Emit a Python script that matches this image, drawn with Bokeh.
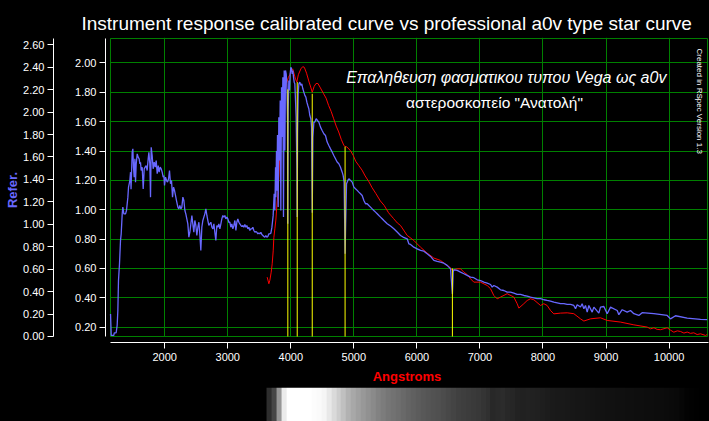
import numpy as np
from bokeh.plotting import figure
from bokeh.models import (Range1d, LinearAxis, FixedTicker, PrintfTickFormatter,
                          BoxAnnotation, Label, GlobalInlineStyleSheet)
from bokeh.layouts import column
from bokeh.embed import file_html
from bokeh.resources import INLINE

# ---------------- data ----------------
blue_wl = [1141, 1152, 1193, 1200, 1230, 1246, 1257, 1267, 1283, 1299, 1310, 1326, 1336, 1352, 1379, 1394,
           1405, 1416, 1426, 1437, 1447, 1458, 1466, 1474, 1484, 1495, 1505, 1516, 1527, 1537, 1548, 1564,
           1579, 1595, 1606, 1616, 1627, 1643, 1659, 1675, 1690, 1706, 1722, 1738, 1749, 1764, 1775, 1786,
           1801, 1817, 1833, 1849, 1865, 1881, 1897, 1912, 1928, 1944, 1960, 1976, 1987, 1997, 2013, 2029,
           2045, 2061, 2076, 2092, 2108, 2124, 2140, 2156, 2172, 2187, 2209, 2224, 2240, 2256, 2272, 2288,
           2304, 2320, 2335, 2351, 2367, 2383, 2399, 2415, 2431, 2446, 2462, 2478, 2494, 2510, 2526, 2542,
           2557, 2573, 2589, 2605, 2621, 2637, 2653, 2669, 2684, 2700, 2716, 2732, 2748, 2764, 2780, 2795,
           2811, 2827, 2843, 2859, 2875, 2891, 2906, 2922, 2938, 2954, 2970, 2986, 3002, 3017, 3033, 3049,
           3065, 3081, 3097, 3113, 3129, 3144, 3160, 3176, 3192, 3208, 3224, 3240, 3255, 3271, 3287, 3303,
           3319, 3335, 3351, 3366, 3382, 3398, 3414, 3430, 3446, 3462, 3477, 3493, 3509, 3525, 3541, 3557,
           3573, 3588, 3604, 3620, 3636, 3652, 3668, 3684, 3700, 3710, 3720,
           3736, 3747, 3758, 3763, 3773, 3779, 3789, 3800, 3810, 3821, 3832, 3842, 3853, 3863, 3874, 3884,
           3895, 3906, 3916, 3927, 3937, 3948, 3953, 3958, 3969, 3980, 3990, 4001, 4011, 4022, 4032, 4043,
           4054, 4064, 4075, 4085, 4096, 4101, 4107, 4117, 4128, 4143, 4159, 4175, 4191, 4207, 4223, 4239,
           4255, 4270, 4286, 4302, 4318, 4329, 4340, 4350, 4366, 4381, 4402, 4423, 4445, 4471, 4497, 4524,
           4550, 4577, 4603, 4630, 4656, 4682, 4709, 4735, 4762, 4788, 4815, 4830, 4846, 4861, 4870, 4884,
           4905, 4921, 4947, 4974, 5000, 5026, 5053, 5079, 5106, 5132, 5159, 5185, 5211, 5238, 5264, 5291,
           5317, 5344, 5370, 5397, 5423, 5449, 5476, 5529, 5582, 5634, 5687,
           5740, 5780, 5846, 5872, 5899, 5951, 6004, 6057, 6110, 6163, 6216, 6269, 6322, 6374, 6427, 6480,
           6507, 6533, 6563, 6575, 6586, 6639, 6692, 6745, 6797, 6850, 6903, 6956, 7009, 7062, 7115, 7168,
           7194, 7220, 7273, 7326, 7379, 7432, 7485, 7538, 7590, 7643, 7696, 7749, 7802, 7855, 7908, 7961,
           8013, 8066, 8119, 8172, 8225, 8278, 8331, 8384, 8436, 8489, 8516, 8542, 8595, 8621, 8648, 8674,
           8701, 8727, 8780, 8807, 8886, 8912, 8965, 9018, 9071, 9177, 9203, 9256, 9335, 9388, 9441, 9520,
           9573, 9758, 9970, 10022, 10102, 10287, 10498, 10604]
blue_val = [0.29, 0.144, 0.144, 0.162, 0.162, 0.212, 0.314, 0.518, 0.632, 0.791, 0.836, 0.972, 1.018, 0.972, 0.972, 0.995,
            1.040, 1.086, 1.154, 1.177, 1.199, 1.256, 1.14, 1.245, 1.392, 1.415, 1.290, 1.222, 1.347, 1.188, 1.313, 1.381,
            1.358, 1.347, 1.313, 1.324, 1.267, 1.290, 1.142, 1.279, 1.290, 1.301, 1.267, 1.347, 1.392, 1.313, 1.086, 1.426,
            1.369, 1.279, 1.324, 1.290, 1.335, 1.245, 1.301, 1.256, 1.290, 1.279, 1.256, 1.222, 1.233, 1.165, 1.222, 1.199,
            1.188, 1.211, 1.267, 1.177, 1.199, 1.086, 1.154, 1.131, 1.097, 1.063, 1.018, 1.006, 1.029, 1.006, 1.018, 1.086,
            1.063, 0.995, 0.972, 0.938, 0.904, 0.813, 0.847, 0.904, 0.961, 0.904, 0.847, 0.927, 0.893, 0.825, 0.881, 0.915,
            0.836, 0.723, 0.881, 0.927, 0.950, 0.972, 1.006, 0.961, 0.927, 0.893, 0.904, 0.915, 0.881, 0.870, 0.904, 0.847,
            0.791, 0.893, 0.881, 0.904, 0.870, 0.904, 0.938, 0.961, 0.950, 0.961, 0.938, 0.950, 0.938, 0.915, 0.915, 0.881,
            0.904, 0.870, 0.893, 0.927, 0.859, 0.915, 0.938, 0.915, 0.904, 0.893, 0.886, 0.893, 0.881, 0.900, 0.881, 0.893,
            0.870, 0.881, 0.859, 0.870, 0.870, 0.881, 0.859, 0.847, 0.852, 0.847, 0.836, 0.841, 0.836, 0.847, 0.831, 0.825,
            0.818, 0.813, 0.825, 0.813, 0.818, 0.836, 0.836, 0.841, 0.88, 0.92, 0.96,
            1.109, 0.995, 1.29, 1.086, 1.40, 1.13, 1.51, 1.018, 1.63, 1.336, 1.745, 0.995, 1.835, 1.495, 1.903, 0.95,
            1.949, 1.404, 1.949, 1.926, 1.858, 1.60, 0.905, 1.676, 1.881, 1.813, 1.926, 1.971, 1.96, 1.926, 1.949, 1.903,
            1.869, 1.858, 1.744, 1.631, 1.30, 0.95, 1.518, 1.79, 1.858, 1.869, 1.847, 1.858, 1.824, 1.801, 1.779, 1.767,
            1.733, 1.71, 1.688, 1.642, 1.62, 1.563, 0.98, 1.495, 1.597, 1.597, 1.62, 1.608, 1.597, 1.563, 1.54, 1.518,
            1.506, 1.461, 1.438, 1.415, 1.393, 1.37, 1.347, 1.325, 1.313, 1.29, 1.256, 1.234, 1.188, 0.70, 0.90, 1.177,
            1.20, 1.211, 1.20, 1.188, 1.154, 1.143, 1.132, 1.120, 1.109, 1.097, 1.063, 1.041, 1.041, 1.029, 1.018, 1.006,
            0.995, 0.984, 0.973, 0.961, 0.950, 0.939, 0.927, 0.905, 0.889, 0.871, 0.848,
            0.825, 0.814, 0.802, 0.768, 0.764, 0.745, 0.734, 0.723, 0.718, 0.700, 0.682, 0.655, 0.648, 0.643, 0.636, 0.621,
            0.609, 0.598, 0.427, 0.575, 0.591, 0.587, 0.575, 0.564, 0.553, 0.541, 0.537, 0.523, 0.518, 0.507, 0.500, 0.491,
            0.473, 0.484, 0.473, 0.455, 0.450, 0.439, 0.439, 0.432, 0.423, 0.423, 0.416, 0.412, 0.405, 0.400, 0.394, 0.394,
            0.387, 0.382, 0.378, 0.371, 0.366, 0.360, 0.360, 0.355, 0.355, 0.348, 0.326, 0.353, 0.337, 0.360, 0.326, 0.348,
            0.303, 0.348, 0.303, 0.337, 0.296, 0.337, 0.341, 0.292, 0.337, 0.314, 0.285, 0.319, 0.303, 0.314, 0.292, 0.280,
            0.299, 0.292, 0.280, 0.257, 0.278, 0.262, 0.253, 0.251]

red_wl = [3625, 3652, 3668, 3689, 3705, 3721, 3731, 3747, 3763, 3784, 3800, 3810, 3826, 3847, 3869, 3890,
          3911, 3932, 3960, 3985, 4010, 4030, 4050, 4075, 4095, 4120, 4160, 4190, 4215, 4250, 4290, 4320,
          4340, 4370, 4400, 4430, 4470, 4520, 4560, 4600, 4640, 4680, 4720, 4760, 4800, 4840, 4861, 4880,
          4910, 4950, 4990, 5030, 5080, 5130, 5180, 5240, 5290, 5350, 5420, 5480, 5550, 5630, 5690,
          5740, 5846, 5951, 6057, 6163, 6269, 6374, 6480, 6533, 6560, 6586, 6639, 6692, 6745, 6797, 6850,
          6903, 7009, 7115, 7168, 7220, 7273, 7326, 7432, 7538, 7590, 7617, 7696, 7749, 7802, 7855, 7961,
          8013, 8066, 8119, 8172, 8278, 8384, 8489, 8595, 8648, 8754, 8912, 9018, 9229, 9441, 9652, 9705,
          9760, 9810, 9864, 9970, 10022, 10075, 10130, 10181, 10235, 10287, 10340, 10392, 10445, 10498, 10578, 10604]
red_val = [0.541, 0.496, 0.52, 0.575, 0.632, 0.72, 0.81, 0.87, 0.93, 1.06, 1.13, 1.22, 1.40, 1.55, 1.64, 1.70,
           1.80, 1.86, 1.90, 1.92, 1.95, 1.96, 1.93, 1.89, 1.87, 1.92, 1.96, 1.975, 1.97, 1.93, 1.87, 1.83,
           1.80, 1.84, 1.86, 1.86, 1.83, 1.79, 1.76, 1.71, 1.67, 1.62, 1.57, 1.53, 1.48, 1.44, 1.43, 1.43,
           1.42, 1.40, 1.37, 1.33, 1.30, 1.27, 1.23, 1.19, 1.15, 1.11, 1.06, 1.03, 0.98, 0.94, 0.91,
           0.893, 0.825, 0.791, 0.745, 0.705, 0.671, 0.655, 0.621, 0.605, 0.587, 0.591, 0.598, 0.598, 0.575, 0.559, 0.530,
           0.507, 0.507, 0.484, 0.462, 0.416, 0.393, 0.405, 0.428, 0.405, 0.360, 0.330, 0.360, 0.382, 0.394, 0.387, 0.348,
           0.360, 0.348, 0.314, 0.291, 0.296, 0.298, 0.292, 0.257, 0.242, 0.257, 0.264, 0.246, 0.235, 0.216, 0.201, 0.189,
           0.196, 0.185, 0.183, 0.196, 0.180, 0.166, 0.175, 0.171, 0.160, 0.167, 0.158, 0.162, 0.150, 0.155, 0.144, 0.150]

line_wl = [3953, 4102, 4340, 4861, 6563]        # Balmer line markers
line_top = [1.82, 1.87, 1.79, 1.43, 0.60]

x_ticks = [2000, 3000, 4000, 5000, 6000, 7000, 8000, 9000, 10000]
y_ticks = [0.2, 0.4, 0.6, 0.8, 1.0, 1.2, 1.4, 1.6, 1.8, 2.0]
y2_ticks = [0.0, 0.2, 0.4, 0.6, 0.8, 1.0, 1.2, 1.4, 1.6, 1.8, 2.0, 2.2, 2.4, 2.6]

strip_gray = [45, 70, 150, 235, 255, 255, 255, 255, 255, 252, 250, 245, 232, 218, 205, 192,
              178, 168, 160, 152, 145, 138, 130, 124, 118, 114, 110, 105, 100, 96, 92, 88,
              85, 82, 80, 76, 72, 68, 64, 62, 60, 58, 56, 52, 48, 40, 42, 44,
              40, 38, 34, 33, 34, 33, 32, 30, 28, 26, 25, 25, 24, 23, 22, 22,
              21, 20, 19, 18, 17, 17, 16, 16, 15, 15, 14, 14, 13, 13, 12, 12,
              11, 10, 9, 6, 3, 2, 1, 0, 0]

TITLE = "Instrument response calibrated curve vs professional a0v type star curve"

# ---------------- layout constants ----------------
X_START, X_END = 1061, 10625
Y_START, Y_END = 0.0958, 2.1734
Y2_START, Y2_END = -0.0535, 2.665
FRAME_X0, FRAME_X1 = 1140, 10609
FRAME_Y0, FRAME_Y1 = 0.1366, 2.1666
Y2_TOP = 2.656
STRIP_X0 = 3615

FONT = "Liberation Sans"
GREEN = "#008000"
BLUE = "#6868ff"

def bare(f):
    f.grid.visible = False
    if "frame_align" in f.properties():
        f.frame_align = False
    return f

# title strip (its own frame covers the whole 709 x 37 area)
head = bare(figure(width=709, height=37, x_range=Range1d(0, 1), y_range=Range1d(0, 1),
                   output_backend="svg", toolbar_location=None,
                   min_border_left=0, min_border_right=0, min_border_top=0, min_border_bottom=0,
                   background_fill_color="black", border_fill_color="black", outline_line_color=None,
                   x_axis_location=None, y_axis_location=None))
head.add_layout(Label(x=81, y=14.3, x_units="screen", y_units="screen", text=TITLE,
                      text_font=FONT, text_font_size="19px", text_color="white",
                      text_align="left", text_baseline="alphabetic"))

fig = figure(width=709, height=350, x_range=Range1d(X_START, X_END), y_range=Range1d(Y_START, Y_END),
             output_backend="svg", toolbar_location=None,
             min_border_left=105, min_border_right=1, min_border_top=0, min_border_bottom=45,
             background_fill_color="black", border_fill_color="black", outline_line_color=None)

def style_axis(ax):
    ax.axis_line_color = "white"
    ax.major_tick_line_color = "white"
    ax.major_tick_in = 0
    ax.major_tick_out = 6
    ax.minor_tick_line_color = None
    ax.major_label_text_color = "white"
    ax.major_label_text_font = FONT
    ax.major_label_text_font_size = "11px"
    ax.major_label_standoff = 3
    ax.axis_label_text_font = FONT

xa = fig.xaxis[0]
style_axis(xa)
xa.ticker = FixedTicker(ticks=x_ticks)
xa.bounds = (FRAME_X0, X_END)
xa.major_label_standoff = 4
xa.axis_label = "Angstroms"
xa.axis_label_text_color = "red"
xa.axis_label_text_font_style = "bold"
xa.axis_label_text_font_size = "13px"
xa.axis_label_standoff = 5

ya = fig.yaxis[0]
style_axis(ya)
ya.ticker = FixedTicker(ticks=y_ticks)
ya.formatter = PrintfTickFormatter(format="%.2f")
ya.bounds = (FRAME_Y0, FRAME_Y1)
ya.axis_label = " "
ya.axis_label_text_font_size = "10px"
ya.axis_label_standoff = 5

fig.extra_y_ranges = {"outer": Range1d(Y2_START, Y2_END)}
ya2 = LinearAxis(y_range_name="outer")
style_axis(ya2)
ya2.ticker = FixedTicker(ticks=y2_ticks)
ya2.formatter = PrintfTickFormatter(format="%.2f")
ya2.bounds = (0, Y2_TOP)
ya2.axis_label = "Refer."
ya2.axis_label_text_color = BLUE
ya2.axis_label_text_font_style = "bold"
ya2.axis_label_text_font_size = "13px"
ya2.axis_label_standoff = 0
fig.add_layout(ya2, "left")

fig.xgrid.ticker = FixedTicker(ticks=x_ticks)
fig.ygrid.ticker = FixedTicker(ticks=y_ticks)
for g in (fig.xgrid[0], fig.ygrid[0]):
    g.grid_line_color = GREEN
    g.grid_line_width = 1

# black strips between the axes and the green frame, then the green frame itself
fig.add_layout(BoxAnnotation(left=X_START, right=X_END, bottom=Y_START, top=FRAME_Y0,
                             fill_color="black", fill_alpha=1, line_color=None, level="underlay"))
fig.add_layout(BoxAnnotation(left=X_START, right=FRAME_X0, bottom=Y_START, top=Y_END,
                             fill_color="black", fill_alpha=1, line_color=None, level="underlay"))
fig.add_layout(BoxAnnotation(left=FRAME_X1, right=X_END, bottom=Y_START, top=Y_END,
                             fill_color="black", fill_alpha=1, line_color=None, level="underlay"))
fig.add_layout(BoxAnnotation(left=X_START, right=X_END, bottom=FRAME_Y1, top=Y_END,
                             fill_color="black", fill_alpha=1, line_color=None, level="underlay"))
fig.add_layout(BoxAnnotation(left=FRAME_X0, right=FRAME_X1, bottom=FRAME_Y0, top=FRAME_Y1,
                             fill_alpha=0, line_color=GREEN, line_width=1, line_alpha=1, level="underlay"))

fig.line(red_wl, red_val, line_color="red", line_width=1)
fig.line(blue_wl, blue_val, line_color=BLUE, line_width=1.3)
fig.segment(x0=line_wl, y0=[FRAME_Y0] * len(line_wl), x1=line_wl, y1=line_top,
            line_color="#ffff00", line_width=1)

fig.add_layout(Label(x=400.8, y=265.3, x_units="screen", y_units="screen",
                     text="Επαληθευση φασματικου τυπου Vega ως a0v",
                     text_font=FONT, text_font_size="16px", text_font_style="italic", text_color="white",
                     text_align="center", text_baseline="alphabetic"))
fig.add_layout(Label(x=389, y=240.3, x_units="screen", y_units="screen",
                     text="αστεροσκοπείο \"Ανατολή\"",
                     text_font=FONT, text_font_size="15.5px", text_color="white",
                     text_align="center", text_baseline="alphabetic"))
fig.add_layout(Label(x=594, y=294, x_units="screen", y_units="screen",
                     text="Created in RSpec Version 1.3", angle=-np.pi / 2,
                     text_font=FONT, text_font_size="8px", text_color="white",
                     text_align="left", text_baseline="alphabetic"))

# spectrum strip
strip = figure(width=709, height=34, x_range=fig.x_range, y_range=Range1d(0, 1),
               output_backend="svg", toolbar_location=None,
               min_border_left=105, min_border_right=1, min_border_top=0, min_border_bottom=0,
               background_fill_color="black", border_fill_color="black", outline_line_color=None,
               x_axis_location=None, y_axis_location=None)
strip.grid.visible = False
gray = np.array(strip_gray, dtype=np.uint32)
rgba = (np.uint32(255) << 24) | (gray << 16) | (gray << 8) | gray
strip.image_rgba(image=[rgba.reshape(1, -1)], x=STRIP_X0, y=0, dw=X_END - STRIP_X0, dh=1)

css = GlobalInlineStyleSheet(css="html, body { margin: 0; padding: 0; background: #000; }")
p = column(head, column(fig, strip, spacing=0), spacing=0, stylesheets=[css])

open("out.html", "w").write(file_html(p, INLINE))
